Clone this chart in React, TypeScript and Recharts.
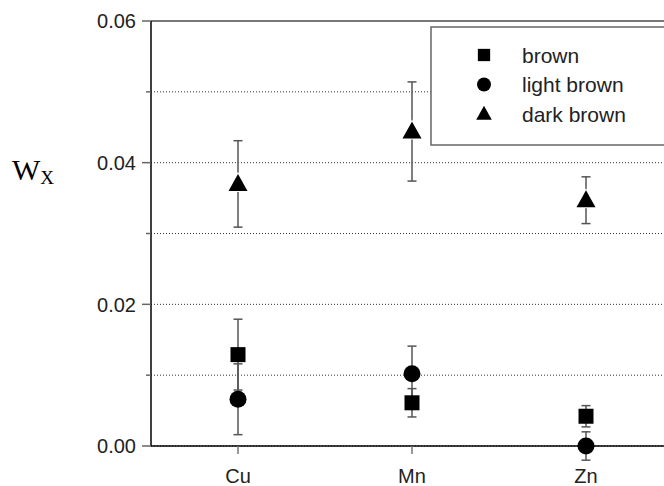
import React from "react"
import { CartesianGrid, ErrorBar, Legend, ReferenceLine, Scatter, ScatterChart, XAxis, YAxis } from "recharts"

const categories = ["Cu", "Mn", "Zn"]
const seriesNames = ["brown", "light brown", "dark brown"]

const brown = [0.0129, 0.0061, 0.0042]
const brownErr = [0.005, 0.002, 0.0015]
const lightBrown = [0.0066, 0.0102, 0.0]
const lightBrownErr = [0.005, 0.0039, 0.002]
const darkBrown = [0.037, 0.0444, 0.0347]
const darkBrownErr = [0.0061, 0.007, 0.0033]

const yTicks = [0, 0.01, 0.02, 0.03, 0.04, 0.05, 0.06]
const yTickLabels = ["0.00", "", "0.02", "", "0.04", "", "0.06"]

const sans = "'Liberation Sans', Arial, Helvetica, sans-serif"
const serif = "'Liberation Serif', 'Times New Roman', serif"

const toPoints = (values: number[], errs: number[]) =>
  values.map((y, i) => ({ x: i, y, err: errs[i] }))

type Marker = "square" | "circle" | "triangle"

function drawMarker(kind: Marker, cx: number, cy: number, s = 1) {
  if (kind === "square") {
    const h = 7.5 * s
    return <rect x={cx - h} y={cy - h} width={h * 2} height={h * 2} fill="#000" />
  }
  if (kind === "circle") {
    return <circle cx={cx} cy={cy} r={8.5 * s} fill="#000" />
  }
  const w = 9.5 * s
  return (
    <polygon
      points={`${cx},${cy - 10 * s} ${cx - w},${cy + 7 * s} ${cx + w},${cy + 7 * s}`}
      fill="#000"
      stroke="#fff"
      strokeWidth={s === 1 ? 2 : 0}
      paintOrder="stroke"
    />
  )
}

const markerFor: Record<string, Marker> = {
  brown: "square",
  "light brown": "circle",
  "dark brown": "triangle",
}

// y ticks: long tick + label on even hundredths, short tick on odd ones
function YTick({ x, y, index }: any) {
  const label = yTickLabels[index]
  return (
    <g>
      <line x1={label ? x + 6 : x + 10} x2={x + 15} y1={y} y2={y} stroke="#666" strokeWidth={1.5} />
      {label && (
        <text x={x} y={y} dy="0.36em" textAnchor="end" fontSize={20} fontFamily={sans} fill="#222">
          {label}
        </text>
      )}
    </g>
  )
}

function AxisTitle({ viewBox }: any) {
  const x0 = viewBox ? viewBox.x + 12 : 12
  return (
    <text x={x0} y={180} fontFamily={serif} fill="#000">
      <tspan fontSize={30}>W</tspan>
      <tspan fontSize={19} dy={4}>X</tspan>
    </text>
  )
}

function LegendBox({ payload }: any) {
  const present = new Set((payload || []).map((p: any) => p.value))
  const rows = seriesNames.filter((n) => present.has(n))
  return (
    <svg width={300} height={122} style={{ display: "block" }}>
      <rect x={1} y={1} width={296} height={118} fill="#fff" stroke="#666" strokeWidth={1.5} />
      {rows.map((name, i) => {
        const cy = 29 + i * 29.5
        return (
          <g key={name}>
            {drawMarker(markerFor[name], 54, cy, 0.82)}
            <text x={92} y={cy} dy="0.36em" fontSize={21} fontFamily={sans} fill="#222">
              {name}
            </text>
          </g>
        )
      })}
    </svg>
  )
}

export default function App() {
  return (
    <div style={{ position: "absolute", left: 0, top: 0, width: 664, height: 486, overflow: "hidden", background: "#fff" }}>
      <style>{".recharts-scatter{clip-path:none}"}</style>
      <ScatterChart width={680} height={486} margin={{ top: 21, right: 7, bottom: 8, left: 0 }}>
        <CartesianGrid vertical={false} stroke="#333" strokeDasharray="1 2" />
        <XAxis
          dataKey="x"
          type="number"
          domain={[-0.5, 2.5]}
          ticks={[0, 1, 2]}
          tickFormatter={(i: number) => categories[i]}
          height={32}
          axisLine={{ stroke: "#000", strokeWidth: 1.5 }}
          tickLine={{ stroke: "#777", strokeWidth: 1.5 }}
          tickSize={8}
          tickMargin={15}
          tick={{ fontSize: 20, fontFamily: sans, fill: "#222" }}
        />
        <YAxis
          dataKey="y"
          type="number"
          domain={[0, 0.06]}
          allowDataOverflow
          ticks={yTicks}
          interval={0}
          width={151}
          axisLine={{ stroke: "#000", strokeWidth: 1.5 }}
          tickLine={false}
          tickSize={9}
          tickMargin={6}
          tick={<YTick />}
          label={<AxisTitle />}
        />
        <ReferenceLine y={0.06} stroke="#777" strokeWidth={2} />
        <Legend
          layout="vertical"
          align="center"
          verticalAlign="middle"
          wrapperStyle={{ top: 26, left: 430, width: 300 }}
          content={<LegendBox />}
        />
        <Scatter
          name="brown"
          data={toPoints(brown, brownErr)}
          isAnimationActive={false}
          shape={(p: any) => drawMarker("square", p.cx, p.cy)}
        >
          <ErrorBar dataKey="err" direction="y" width={4.5} stroke="#555" strokeWidth={1.5} isAnimationActive={false} />
        </Scatter>
        <Scatter
          name="light brown"
          data={toPoints(lightBrown, lightBrownErr)}
          isAnimationActive={false}
          shape={(p: any) => drawMarker("circle", p.cx, p.cy)}
        >
          <ErrorBar dataKey="err" direction="y" width={4.5} stroke="#555" strokeWidth={1.5} isAnimationActive={false} />
        </Scatter>
        <Scatter
          name="dark brown"
          data={toPoints(darkBrown, darkBrownErr)}
          isAnimationActive={false}
          shape={(p: any) => drawMarker("triangle", p.cx, p.cy)}
        >
          <ErrorBar dataKey="err" direction="y" width={4.5} stroke="#555" strokeWidth={1.5} isAnimationActive={false} />
        </Scatter>
      </ScatterChart>
    </div>
  )
}
